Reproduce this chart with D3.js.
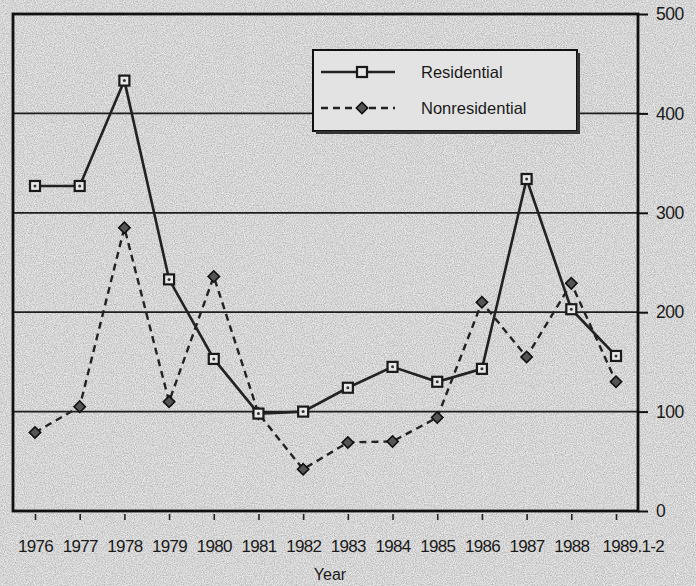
<!DOCTYPE html>
<html>
<head>
<meta charset="utf-8">
<title>Residential vs Nonresidential</title>
<style>
  body { margin: 0; background: #d4d4d4; }
  svg { display: block; font-family: "Liberation Sans", Arial, sans-serif; }
</style>
</head>
<body>
<svg width="696" height="586"></svg>
<script src="https://cdn.jsdelivr.net/npm/d3@7"></script>
<script>
// values
var years = ["1976", "1977", "1978", "1979", "1980", "1981", "1982", "1983", "1984", "1985", "1986", "1987", "1988", "1989.1-2"];
var residential = [327, 327, 433, 233, 153, 98, 100, 124, 145, 130, 143, 334, 203, 156];
var nonresidential = [79, 105, 285, 110, 236, 98, 42, 69, 70, 94, 210, 155, 229, 130];
var yTicks = [0, 100, 200, 300, 400, 500];

var svg = d3.select("svg");

var margin = {top: 14, right: 58, bottom: 75, left: 13},
    width = 696 - margin.left - margin.right,
    height = 586 - margin.top - margin.bottom;

// grainy paper look
var defs = svg.append("defs");
var f = defs.append("filter").attr("id", "grain").attr("x", 0).attr("y", 0).attr("width", 1).attr("height", 1);
f.append("feTurbulence").attr("type", "fractalNoise").attr("baseFrequency", 0.9).attr("numOctaves", 2).attr("seed", 3);
f.append("feColorMatrix").attr("values", "0 0 0 0 0  0 0 0 0 0  0 0 0 0 0  0 0 0 -1.6 1.1");
svg.append("rect").attr("width", 696).attr("height", 586).attr("fill", "#e6e6e6");
svg.append("rect").attr("width", 696).attr("height", 586).attr("filter", "url(#grain)").attr("opacity", 0.25);

var g = svg.append("g").attr("transform", "translate(" + margin.left + "," + margin.top + ")");

var x = d3.scalePoint().domain(years).range([22, 603]);
var y = d3.scaleLinear().domain([0, 500]).range([height, 0]);

// gridlines
g.append("g")
  .selectAll("line")
  .data(yTicks.slice(1, 5))
  .enter().append("line")
    .attr("x1", 0).attr("x2", width)
    .attr("y1", function(d) { return y(d); })
    .attr("y2", function(d) { return y(d); })
    .attr("stroke", "#1e1e1e").attr("stroke-width", 1.8);

// frame
g.append("rect").attr("width", width).attr("height", height)
  .attr("fill", "none").attr("stroke", "#111").attr("stroke-width", 2.8);

// right axis
var yAxis = g.append("g").attr("transform", "translate(" + width + ",0)")
  .call(d3.axisRight(y).tickValues(yTicks).tickSize(10).tickPadding(8));
yAxis.select(".domain").remove();
yAxis.selectAll("line").attr("stroke", "#111").attr("stroke-width", 2);
yAxis.selectAll("text").attr("font-size", 17.5).attr("fill", "#1a1a1a").attr("letter-spacing", -0.5);

// bottom axis
var xAxis = g.append("g").attr("transform", "translate(0," + height + ")")
  .call(d3.axisBottom(x).tickSize(9).tickPadding(20));
xAxis.select(".domain").remove();
xAxis.selectAll("line").attr("stroke", "#222").attr("stroke-width", 1.6).attr("y1", 3);
xAxis.selectAll("text").attr("font-size", 17).attr("fill", "#1a1a1a").attr("letter-spacing", -0.7);
xAxis.selectAll("text").filter(function(d) { return d === "1989.1-2"; })
  .attr("text-anchor", "start").attr("dx", -14);

g.append("text").attr("x", 317).attr("y", height + 69)
  .attr("text-anchor", "middle").attr("font-size", 16).attr("fill", "#1a1a1a").text("Year");

var line = d3.line().x(function(d, i) { return x(years[i]); }).y(function(d) { return y(d); });

// nonresidential, dashed with diamonds
g.append("path").datum(nonresidential).attr("d", line)
  .attr("fill", "none").attr("stroke", "#222").attr("stroke-width", 2.4).attr("stroke-dasharray", "7,5");
g.selectAll(".dia").data(nonresidential).enter().append("path").attr("class", "dia")
  .attr("d", d3.symbol().type(d3.symbolSquare).size(64))
  .attr("transform", function(d, i) { return "translate(" + x(years[i]) + "," + y(d) + ") rotate(45)"; })
  .attr("fill", "#555").attr("stroke", "#111").attr("stroke-width", 1.6);

// residential, solid with squares
g.append("path").datum(residential).attr("d", line)
  .attr("fill", "none").attr("stroke", "#222").attr("stroke-width", 2.6);
var sq = g.selectAll(".sq").data(residential).enter().append("g").attr("class", "sq")
  .attr("transform", function(d, i) { return "translate(" + x(years[i]) + "," + y(d) + ")"; });
sq.append("rect").attr("x", -5).attr("y", -5).attr("width", 10).attr("height", 10)
  .attr("fill", "#e8e8e8").attr("stroke", "#1a1a1a").attr("stroke-width", 2.2);
sq.append("circle").attr("r", 1.5).attr("fill", "#333");

// legend
var lg = g.append("g").attr("transform", "translate(300,36)");
lg.append("rect").attr("width", 264).attr("height", 81).attr("fill", "#e3e3e3").attr("stroke", "#111").attr("stroke-width", 2);
lg.append("path").attr("d", "M3,82.5H265.5V3").attr("fill", "none").attr("stroke", "#333").attr("stroke-width", 3);
lg.append("line").attr("x1", 8).attr("x2", 82).attr("y1", 22).attr("y2", 22).attr("stroke", "#222").attr("stroke-width", 2.6);
lg.append("rect").attr("x", 44).attr("y", 17).attr("width", 10).attr("height", 10)
  .attr("fill", "#e8e8e8").attr("stroke", "#1a1a1a").attr("stroke-width", 2.2);
lg.append("line").attr("x1", 8).attr("x2", 82).attr("y1", 58).attr("y2", 58)
  .attr("stroke", "#222").attr("stroke-width", 2.4).attr("stroke-dasharray", "7,5");
lg.append("path").attr("d", d3.symbol().type(d3.symbolSquare).size(64))
  .attr("transform", "translate(49,58) rotate(45)").attr("fill", "#555").attr("stroke", "#111").attr("stroke-width", 1.6);
lg.append("text").attr("x", 108).attr("y", 28).attr("font-size", 16.5).attr("fill", "#1a1a1a").text("Residential");
lg.append("text").attr("x", 108).attr("y", 64).attr("font-size", 16.5).attr("fill", "#1a1a1a").text("Nonresidential");
</script>
</body>
</html>
